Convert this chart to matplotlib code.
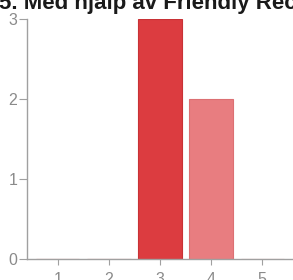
import matplotlib
matplotlib.use("Agg")
import matplotlib.pyplot as plt

plt.rcParams['font.family'] = ['Liberation Sans', 'DejaVu Sans']

categories = [1, 2, 3, 4, 5]
values = [0, 0, 3, 2, 0]
bar_colors = ['#dc3c40', '#dc3c40', '#dc3c40', '#e87d80', '#e87d80']
edge_colors = ['#c83236', '#c83236', '#c83236', '#dc7073', '#dc7073']
yticks = [0, 1, 2, 3]
title = "5. Med hjälp av Friendly Reception"

W, H = 293, 280
fig = plt.figure(figsize=(W / 100, H / 100), dpi=100)
ax = fig.add_axes([27 / W, 21 / H, (W - 27) / W, 240 / H])

ax.bar(categories, values, width=0.85, color=bar_colors, edgecolor=edge_colors, linewidth=0.8)

ax.set_xlim(0.4, 5.6)
ax.set_ylim(0, 3)
ax.set_xticks(categories)
ax.set_yticks(yticks)
for s in ['top', 'right']:
    ax.spines[s].set_visible(False)
for s in ['left', 'bottom']:
    ax.spines[s].set_color('#a0a0a0')
    ax.spines[s].set_linewidth(1.0)
ax.tick_params(axis='both', colors='#a0a0a0', labelcolor='#8a8a8a', labelsize=11.5, width=0.8)
ax.tick_params(axis='y', length=6, pad=1)
ax.tick_params(axis='x', length=4, pad=5)

fig.text(-1 / W, 1 - 9 / H, title, fontsize=16, fontweight='bold', color='#1a1a1a', va='baseline', ha='left')

fig.savefig('out.png', dpi=100)
